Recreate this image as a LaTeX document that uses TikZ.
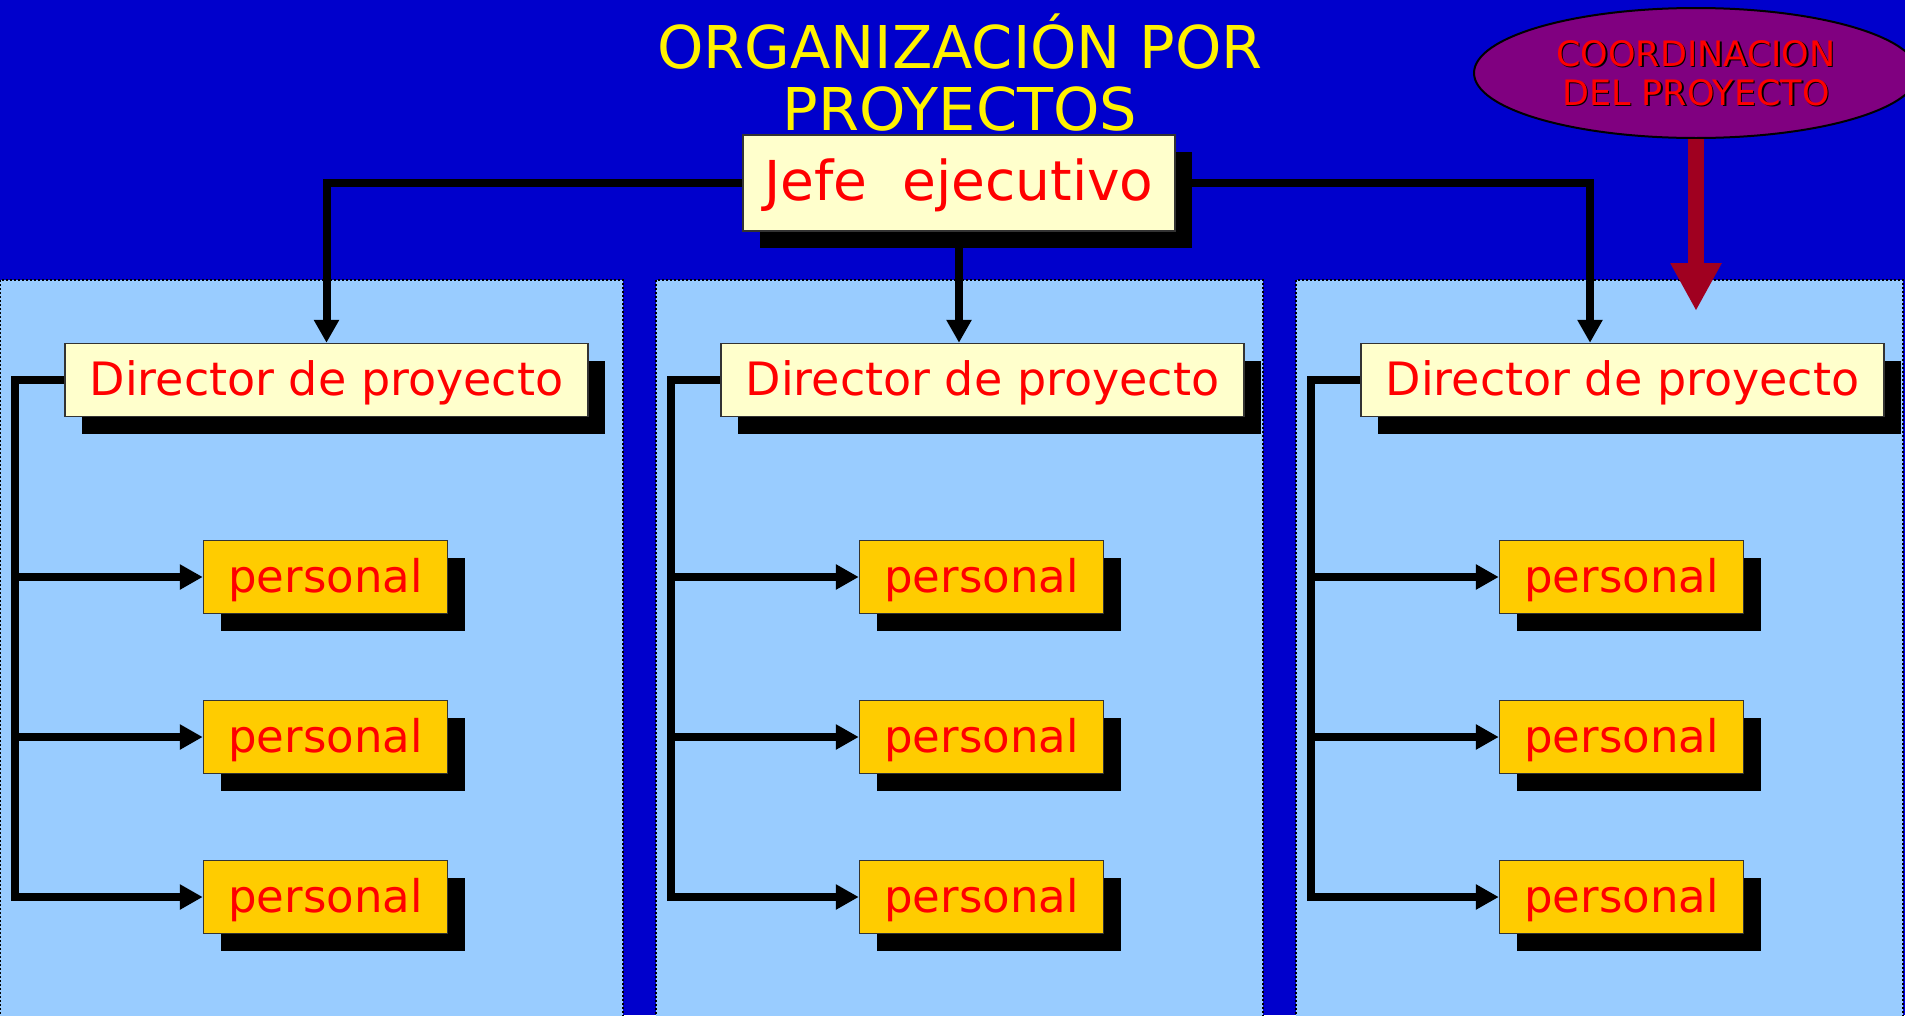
\documentclass[tikz,border=0pt]{standalone}
\usepackage{fontspec}
\setmainfont{DejaVu Sans}
\usetikzlibrary{arrows.meta,positioning,calc,shapes.geometric,shadows}
\definecolor{slideBlue}{RGB}{0,0,204}
\definecolor{panelBlue}{RGB}{153,204,255}
\definecolor{headCream}{RGB}{255,255,204}
\definecolor{staffGold}{RGB}{255,204,0}
\definecolor{coordPurple}{RGB}{128,0,128}
\definecolor{coordRed}{RGB}{160,0,32}
\pgfdeclarelayer{back}
\pgfdeclarelayer{wires}
\pgfsetlayers{back,wires,main}
\newcommand{\projpanel}[2]{\fill[panelBlue] (#1,280) rectangle (#2,1030); \draw[black,line width=1.4pt,dash pattern=on 2pt off 2pt] (#1,1030) -- (#1,280) -- (#2,280) -- (#2,1030);}
\tikzset{
	boxbase/.style={draw=black!80,line width=1.5pt,inner sep=0pt,text=red,drop shadow={shadow xshift=17pt,shadow yshift=-17pt,fill=black,opacity=1}},
	chiefbox/.style={boxbase,fill=headCream,minimum width=432pt,minimum height=96pt,text depth=7pt,font=\fontsize{55}{60}\selectfont},
	directorbox/.style={boxbase,fill=headCream,minimum width=523pt,minimum height=73pt,text depth=3pt,font=\fontsize{46}{52}\selectfont},
	staffbox/.style={boxbase,fill=staffGold,minimum width=244pt,minimum height=73pt,text depth=3pt,font=\fontsize{45}{50}\selectfont},
	orgline/.style={line width=8pt,-{Triangle[length=23pt,width=24pt]}},
	coordtext/.style={font=\fontsize{35}{39}\selectfont,align=center,inner sep=0pt}
}

\begin{document}
\begin{tikzpicture}[x=1pt,y=-1pt]
	\useasboundingbox (0,0) rectangle (1905,1015);
	\begin{pgfonlayer}{back}
		\fill[slideBlue] (0,0) rectangle (1905,1015);
		\projpanel{0}{623}\projpanel{656}{1263}\projpanel{1296}{1903}
	\end{pgfonlayer}
	\node[font=\fontsize{59}{62}\selectfont,text=yellow,align=center] (title) at (960,73) {ORGANIZACIÓN POR\\PROYECTOS};
	\node[chiefbox] (jefe) at (959,183) {Jefe\ \ ejecutivo};
	\foreach \dx/\k in {0/1,656/2,1296/3}{
		\node[directorbox] (d\k) at (326.5+\dx,380) {Director de proyecto};
		\foreach \r/\ry in {1/577,2/737,3/897}
			\node[staffbox] (p\k\r) at (325.5+\dx,\ry) {personal};
		\begin{pgfonlayer}{wires}
			\draw[orgline] (d\k.west) -- ++(-49,0) coordinate (s\k) |- (p\k3.west);
			\draw[orgline] (s\k |- p\k1.west) -- (p\k1.west);
			\draw[orgline] (s\k |- p\k2.west) -- (p\k2.west);
		\end{pgfonlayer}
	}
	\begin{pgfonlayer}{wires}
		\draw[orgline] (jefe.west) -| (d1.north);
		\draw[orgline] (jefe.south) -- (jefe.south |- d2.north);
		\draw[orgline] (jefe.east) -| ([xshift=-32.5pt]d3.north);
	\end{pgfonlayer}
	\node[ellipse,draw=black,line width=2pt,fill=coordPurple,minimum width=444pt,minimum height=130pt] (coord) at (1696,73) {};
	\node[coordtext,text=black] (coordshade) at (1697.5,74.5) {COORDINACION\\DEL PROYECTO};
	\node[coordtext,text=red] (coordlabel) at (1696,73) {COORDINACION\\DEL PROYECTO};
	\coordinate (coordtip) at (1696,311);
	\draw[coordRed,line width=16pt,-{Triangle[length=48pt,width=48pt]}] (coord.south) -- (coordtip);
\end{tikzpicture}
\end{document}
